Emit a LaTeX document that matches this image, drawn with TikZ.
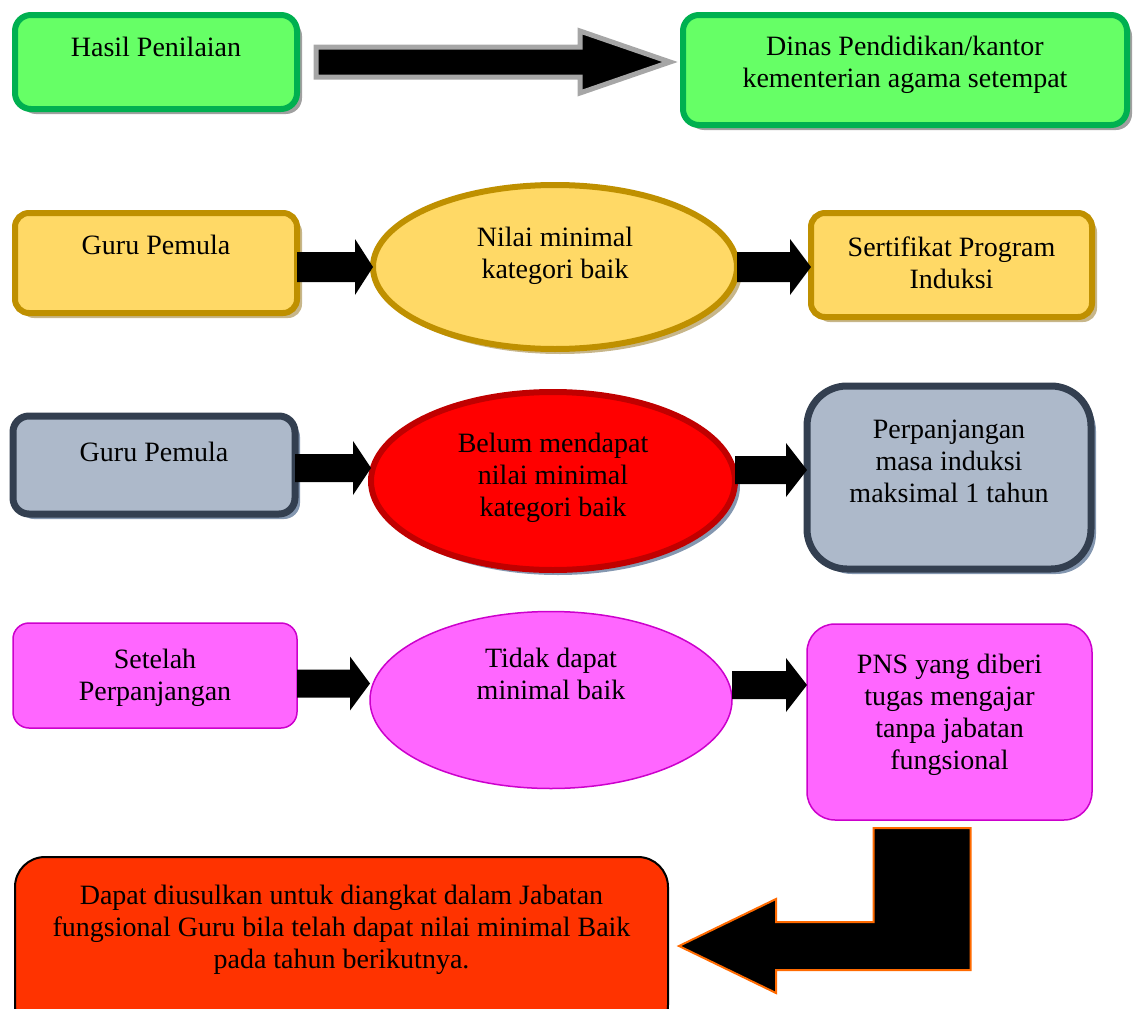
\documentclass[tikz,border=0pt]{standalone}
\usepackage{fontspec}
\setmainfont{Liberation Serif}
\usetikzlibrary{shapes.geometric,shadows,calc}

\definecolor{hijauisi}{HTML}{66FF66}
\definecolor{hijaugaris}{HTML}{00B050}
\definecolor{bayangabu}{HTML}{A0A0A0}
\definecolor{kuningisi}{HTML}{FFD966}
\definecolor{kuninggaris}{HTML}{BF9000}
\definecolor{bayangkuning}{HTML}{C7B68A}
\definecolor{abuisi}{HTML}{ADB9CA}
\definecolor{abugaris}{HTML}{333F50}
\definecolor{bayangbiru}{HTML}{8497B0}
\definecolor{merahisi}{HTML}{FF0000}
\definecolor{merahgaris}{HTML}{C00000}
\definecolor{ungu}{HTML}{FF66FF}
\definecolor{ungugaris}{HTML}{CC00CC}
\definecolor{oranye}{HTML}{FF3300}
\definecolor{oranyegaris}{HTML}{FF6A00}
\definecolor{panahabu}{HTML}{A6A6A6}

% block arrow from #2 to #3: shaft half width, head half width, head length
\newcommand{\fatarrow}[6][]{%
  \path[#1] let \p1=(#2), \p2=(#3) in
    (\x1,\y1+#4) -- (\x2-#6,\y1+#4) -- (\x2-#6,\y1+#5) -- (\x2,\y1)
    -- (\x2-#6,\y1-#5) -- (\x2-#6,\y1-#4) -- (\x1,\y1-#4) -- cycle;}

\begin{document}
\begin{tikzpicture}[x=1pt,y=-1pt,
  every node/.style={inner sep=0pt,outer sep=0pt,align=center,
    font=\fontsize{28}{32}\selectfont},
  hijau/.style={draw=hijaugaris,fill=hijauisi,line width=6pt,rounded corners=16pt,
    drop shadow={shadow xshift=5pt,shadow yshift=-5pt,fill=bayangabu,opacity=1}},
  kuning/.style={draw=kuninggaris,fill=kuningisi,line width=6pt,rounded corners=14pt,
    drop shadow={shadow xshift=5pt,shadow yshift=-5pt,fill=bayangkuning,opacity=1}},
  abu/.style={draw=abugaris,fill=abuisi,line width=7pt,rounded corners=16pt,
    drop shadow={shadow xshift=5pt,shadow yshift=-5pt,fill=bayangbiru,opacity=1}},
  merah/.style={ellipse,draw=merahgaris,fill=merahisi,line width=6pt,
    drop shadow={shadow xshift=5pt,shadow yshift=-5pt,fill=bayangbiru,opacity=1}},
  pink/.style={draw=ungugaris,fill=ungu,line width=1.5pt,rounded corners=16pt},
  akhir/.style={draw=black,fill=oranye,line width=2pt,rounded corners=30pt},
  panah/.style={fill=black},
  panahbesar/.style={fill=black,draw=panahabu,line width=5pt},
  panahbelok/.style={fill=black,draw=oranyegaris,line width=2pt}]
  \useasboundingbox (0,0) rectangle (1133,1009);

  % baris pertama
  \node[hijau,anchor=north west,minimum width=282pt,text height=41pt,text depth=53pt]
    (hasil) at (15,15) {Hasil Penilaian};
  \node[hijau,anchor=north west,minimum width=444pt,text height=72pt,text depth=38pt]
    (dinas) at (683,15) {Dinas Pendidikan/kantor\\kementerian agama setempat};

  % baris kedua
  \node[kuning,anchor=north west,minimum width=282pt,text height=41pt,text depth=59pt]
    (guru1) at (15,213) {Guru Pemula};
  \node[kuning,ellipse,rounded corners=0pt,minimum width=364pt,minimum height=164pt,
    text height=50pt,text depth=28pt] (nilai) at (555,267) {Nilai minimal\\kategori baik};
  \node[kuning,anchor=north west,minimum width=281pt,text height=75pt,text depth=29pt]
    (sertifikat) at (811,213) {Sertifikat Program\\Induksi};

  % baris ketiga
  \node[abu,anchor=north west,minimum width=282pt,text height=45pt,text depth=53pt]
    (guru2) at (13,416) {Guru Pemula};
  \node[merah,minimum width=364pt,minimum height=178pt,text height=90pt,text depth=20pt]
    (belum) at (553,481) {Belum mendapat\\nilai minimal\\kategori baik};
  \node[abu,rounded corners=40pt,anchor=north west,minimum width=284pt,
    text height=116pt,text depth=67pt] (perpanjangan) at (807,386)
    {Perpanjangan\\masa induksi\\maksimal 1 tahun};

  % baris keempat
  \node[pink,anchor=north west,minimum width=284pt,text height=77pt,text depth=28pt]
    (setelah) at (13,623) {Setelah\\Perpanjangan};
  \node[pink,ellipse,rounded corners=0pt,minimum width=362pt,minimum height=177pt,
    text height=40pt,text depth=42pt] (tidak) at (551,700) {Tidak dapat\\minimal baik};
  \node[pink,rounded corners=28pt,anchor=north west,minimum width=285pt,
    text height=145pt,text depth=51pt] (pns) at (807,624)
    {PNS yang diberi\\tugas mengajar\\tanpa jabatan\\fungsional};

  % kotak terakhir
  \node[akhir,anchor=north west,minimum width=653pt,text height=111pt,text depth=67pt]
    (dapat) at (15,857) {Dapat diusulkan untuk diangkat dalam Jabatan\\
    fungsional Guru bila telah dapat nilai minimal Baik\\pada tahun berikutnya.};

  % panah
  \fatarrow[panahbesar]{[xshift=19pt]hasil.east}{[xshift=-13pt]dinas.west}{15pt}{31pt}{90pt}
  \fatarrow[panah]{[yshift=-4pt]guru1.east}{nilai.west}{15pt}{28pt}{18pt}
  \fatarrow[panah]{nilai.east}{sertifikat.west}{15pt}{28pt}{21pt}
  \fatarrow[panah]{[yshift=-3pt]guru2.east}{belum.west}{14pt}{27pt}{18pt}
  \fatarrow[panah]{[yshift=11pt]belum.east}{perpanjangan.west}{14pt}{27pt}{21pt}
  \fatarrow[panah]{[yshift=-8pt]setelah.east}{tidak.west}{14pt}{27pt}{20pt}
  \fatarrow[panah]{[yshift=15pt]tidak.east}{pns.west}{14pt}{27pt}{21pt}
  \path[panahbelok] let \p1=(pns.south), \p2=(dapat.east) in
    (\x1-76pt,\y1-8pt) -- (\x1+21pt,\y1-8pt) -- (\x1+21pt,\y2-24pt)
    -- (\x2+108pt,\y2-24pt) -- (\x2+108pt,\y2-47pt) -- (\x2+11pt,\y2)
    -- (\x2+108pt,\y2+47pt) -- (\x2+108pt,\y2+24pt) -- (\x1-76pt,\y2+24pt) -- cycle;
\end{tikzpicture}
\end{document}
